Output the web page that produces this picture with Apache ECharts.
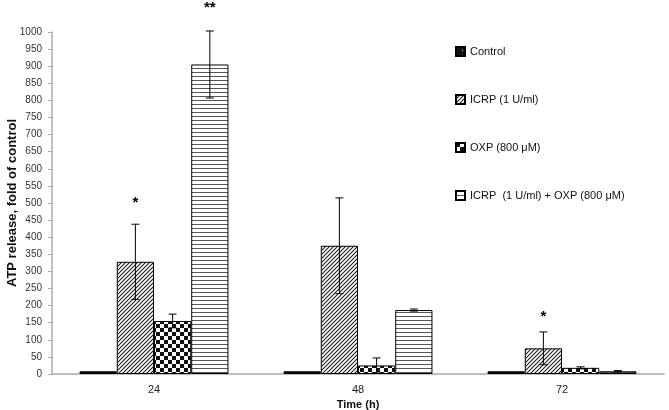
<!DOCTYPE html>
<html>
<head>
<meta charset="utf-8">
<script src="https://cdn.jsdelivr.net/npm/echarts@6/dist/echarts.min.js"></script>
<style>
  html, body { margin: 0; padding: 0; background: #fff; }
  #chart { width: 669px; height: 410px; }
</style>
</head>
<body>
<div id="chart"></div>
<script>
// data
var times = ['24', '48', '72'];
var seriesNames = ['Control', 'ICRP (1 U/ml)', 'OXP (800 μM)', 'ICRP  (1 U/ml) + OXP (800 μM)'];
var control = [8, 8, 8];
var icrp = [328, 375, 75];
var oxp = [155, 25, 18];
var combo = [905, 187, 8];
var controlErr = [0, 0, 0];
var icrpErr = [110, 140, 48];
var oxpErr = [20, 22, 3];
var comboErr = [98, 3, 2];
// significance marks: [category, series, y value, text]
var stars = [[0, 1, 500, '*'], [0, 3, 1070, '**'], [2, 1, 167, '*']];

var values = [control, icrp, oxp, combo];
var errs = [controlErr, icrpErr, oxpErr, comboErr];
var catGap = 0.27;

function makePattern(kind) {
  var c = document.createElement('canvas');
  var ctx;
  if (kind == 'solid') {
    c.width = 8; c.height = 8;
    ctx = c.getContext('2d');
    ctx.fillStyle = '#111';
    ctx.fillRect(0, 0, 8, 8);
    ctx.fillStyle = '#fff';
    ctx.fillRect(6, 3, 1, 1);
  } else if (kind == 'diag') {
    c.width = 4; c.height = 4;
    ctx = c.getContext('2d');
    ctx.fillStyle = '#fff';
    ctx.fillRect(0, 0, 4, 4);
    ctx.strokeStyle = '#222';
    ctx.lineWidth = 1.1;
    ctx.beginPath();
    ctx.moveTo(-1, 5); ctx.lineTo(5, -1);
    ctx.moveTo(-1, 1); ctx.lineTo(1, -1);
    ctx.moveTo(3, 5); ctx.lineTo(5, 3);
    ctx.stroke();
  } else if (kind == 'check') {
    c.width = 8; c.height = 8;
    ctx = c.getContext('2d');
    ctx.fillStyle = '#fff';
    ctx.fillRect(0, 0, 8, 8);
    ctx.fillStyle = '#111';
    ctx.fillRect(0, 0, 4, 4);
    ctx.fillRect(4, 4, 4, 4);
  } else {
    c.width = 4; c.height = 4;
    ctx = c.getContext('2d');
    ctx.fillStyle = '#fff';
    ctx.fillRect(0, 0, 4, 4);
    ctx.fillStyle = '#555';
    ctx.fillRect(0, 0, 4, 1);
  }
  return { image: c, repeat: 'repeat' };
}

var patterns = [makePattern('solid'), makePattern('diag'), makePattern('check'), makePattern('horiz')];

function barOffset(api, sIdx) {
  var band = api.size([1, 0])[0];
  var bw = band * (1 - catGap) / 4;
  return (sIdx - 1.5) * bw;
}

function errRender(sIdx) {
  return function (params, api) {
    var cat = api.value(0);
    var lo = api.coord([cat, api.value(1)]);
    var hi = api.coord([cat, api.value(2)]);
    var x = lo[0] + barOffset(api, sIdx);
    var cap = 4;
    var st = { stroke: '#000', lineWidth: 1 };
    return {
      type: 'group',
      children: [
        { type: 'line', shape: { x1: x, y1: hi[1], x2: x, y2: lo[1] }, style: st },
        { type: 'line', shape: { x1: x - cap, y1: hi[1], x2: x + cap, y2: hi[1] }, style: st },
        { type: 'line', shape: { x1: x - cap, y1: lo[1], x2: x + cap, y2: lo[1] }, style: st }
      ]
    };
  };
}

var series = [];
for (var i = 0; i < 4; i++) {
  series.push({
    name: seriesNames[i],
    type: 'bar',
    data: values[i],
    barGap: '0%',
    barCategoryGap: (catGap * 100) + '%',
    itemStyle: { color: patterns[i], borderColor: '#000', borderWidth: 1 }
  });
}
for (var i = 1; i < 4; i++) {
  var ed = [];
  for (var j = 0; j < times.length; j++) {
    if (errs[i][j] > 0) ed.push([j, values[i][j] - errs[i][j], values[i][j] + errs[i][j]]);
  }
  series.push({
    type: 'custom',
    renderItem: errRender(i),
    data: ed,
    encode: { x: 0, y: [1, 2] },
    silent: true,
    z: 5
  });
}
series.push({
  type: 'custom',
  data: stars,
  clip: false,
  silent: true,
  z: 6,
  renderItem: function (params, api) {
    var p = api.coord([api.value(0), api.value(2)]);
    var x = p[0] + barOffset(api, api.value(1));
    return {
      type: 'text',
      style: {
        x: x, y: p[1],
        text: stars[params.dataIndex][3],
        fill: '#000',
        font: 'bold 15px "Liberation Sans", Arial, sans-serif',
        align: 'center',
        verticalAlign: 'middle'
      }
    };
  }
});

var chart = echarts.init(document.getElementById('chart'));
chart.setOption({
  animation: false,
  textStyle: { fontFamily: '"Liberation Sans", Arial, sans-serif' },
  grid: { left: 52, right: 5, top: 32, bottom: 36, containLabel: false, outerBoundsMode: 'none' },
  legend: {
    orient: 'vertical',
    left: 450,
    top: 41,
    icon: 'rect',
    itemWidth: 9,
    itemHeight: 9,
    itemGap: 37,
    data: seriesNames,
    textStyle: { fontSize: 11, color: '#111' }
  },
  xAxis: {
    type: 'category',
    data: times,
    name: 'Time (h)',
    nameLocation: 'middle',
    nameGap: 23,
    nameTextStyle: { fontWeight: 'bold', fontSize: 11, color: '#111' },
    axisLine: { lineStyle: { color: '#aaa', width: 1.5 } },
    axisTick: { show: false },
    axisLabel: { fontSize: 11, color: '#222', margin: 10 }
  },
  yAxis: {
    type: 'value',
    min: 0,
    max: 1000,
    interval: 50,
    name: 'ATP release, fold of control',
    nameLocation: 'middle',
    nameGap: 33,
    nameMoveOverlap: false,
    nameTextStyle: { fontWeight: 'bold', fontSize: 13, color: '#111' },
    axisLine: { show: true, lineStyle: { color: '#aaa', width: 1.5 } },
    axisTick: { show: true, length: 4, lineStyle: { color: '#aaa' } },
    axisLabel: { fontSize: 10, color: '#333', margin: 10, formatter: function (v) { return String(v); } },
    splitLine: { show: false }
  },
  series: series
});
</script>
</body>
</html>
